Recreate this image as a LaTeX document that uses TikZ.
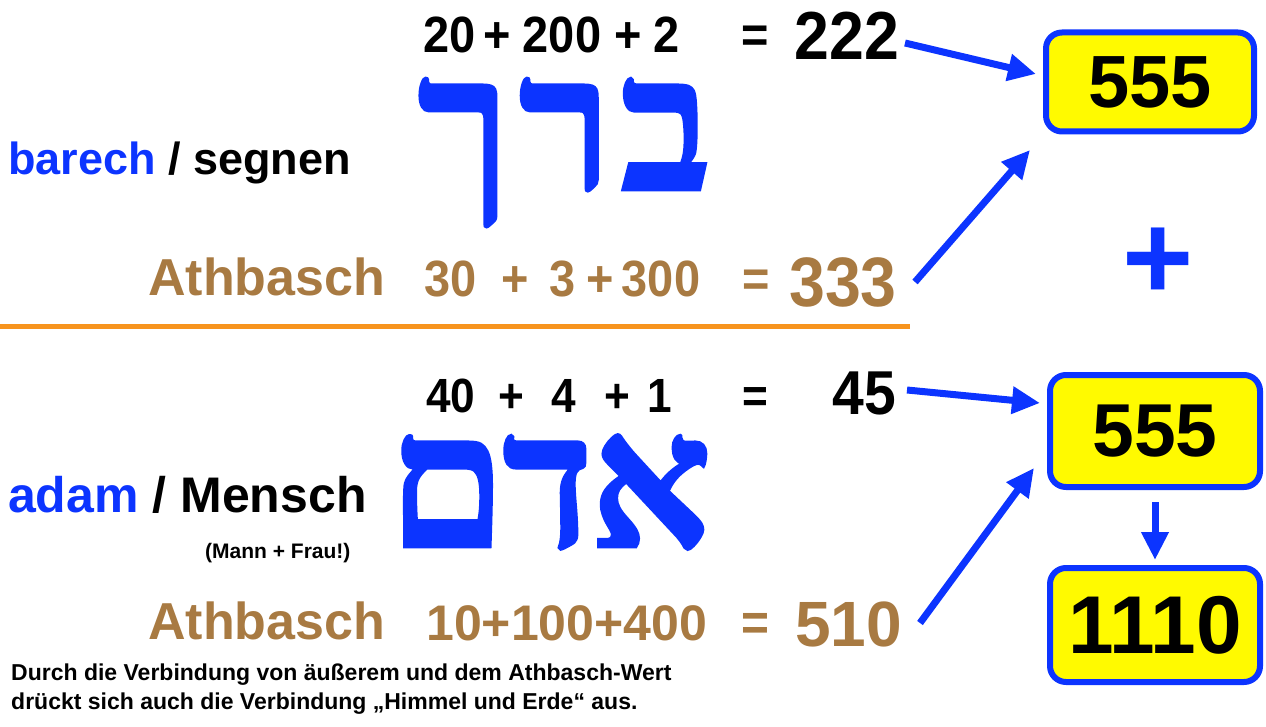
\documentclass[tikz,border=0pt]{standalone}
\usepackage{fontspec}
\setmainfont{Liberation Sans}
\newfontfamily\numf[FakeStretch=0.92]{Liberation Sans}
\newfontfamily\hebfont[Script=Hebrew,FakeBold=1.5]{Liberation Serif}
\TeXXeTstate=1
\usetikzlibrary{arrows.meta}
\definecolor{myblue}{RGB}{12,52,255}
\definecolor{brownish}{RGB}{168,122,66}
\definecolor{orangeline}{RGB}{247,148,30}
\definecolor{boxyellow}{RGB}{255,250,0}
\tikzset{
  fs/.style={font=\bfseries\fontsize{#1}{#1}\selectfont},
  nfs/.style={font=\numf\bfseries\fontsize{#1}{#1}\selectfont},
  txt/.style={inner sep=0pt, anchor=base west},
  num/.style={inner sep=0pt, anchor=base},
  heb/.style={inner sep=0pt, anchor=base east, text=myblue, font=\hebfont\bfseries\fontsize{190}{190}\selectfont},
  resbox/.style={draw=myblue, line width=6pt, fill=boxyellow, rounded corners=16pt, inner sep=0pt, minimum width=208pt},
  arr/.style={draw=myblue, line width=7pt, -{Triangle[length=28pt,width=26pt]}},
}
\begin{document}
\begin{tikzpicture}[x=1pt,y=-1pt]
\useasboundingbox (0,0) rectangle (1266,727);
% row 1
\node[num,nfs=51] (n20) at (450,53) {20};
\node[num,nfs=51] (p1) at (497,53) {+};
\node[num,nfs=51] (n200) at (562,53) {200};
\node[num,nfs=51] (p2) at (628,53) {+};
\node[num,nfs=51] (n2) at (667,53) {2};
\node[num,nfs=51] (eq1) at (755,53) {=};
\node[num,nfs=68] (r222) at (847,60) {222};
% hebrew 1
\node[heb] (heb1) at (712,190) {\beginR ב\hspace{8pt}ר\hspace{8pt}ך\endR};
\node[txt,fs=45] (barech) at (8,175) {\textcolor{myblue}{barech} / segnen};
% row 2
\begin{scope}[text=brownish]
\node[txt,fs=52] (ath1) at (148,296) {Athbasch};
\node[num,nfs=51] (n30) at (451,297) {30};
\node[num,nfs=51] (p3) at (515,297) {+};
\node[num,nfs=51] (n3) at (563,297) {3};
\node[num,nfs=51] (p4) at (600,297) {+};
\node[num,nfs=51] (n300) at (661,297) {300};
\node[num,nfs=51] (eq2) at (756,297) {=};
\node[num,nfs=70] (r333) at (843,306) {333};
\end{scope}
\draw[orangeline, line width=5pt] (0,326) -- (910,326);
% row 3
\node[num,nfs=48] (n40) at (451,412) {40};
\node[num,nfs=48] (p5) at (511,412) {+};
\node[num,nfs=48] (n4) at (564,412) {4};
\node[num,nfs=48] (p6) at (617,412) {+};
\node[num,nfs=48] (n1) at (660,412) {1};
\node[num,nfs=48] (eq3) at (755,412) {=};
\node[num,nfs=62] (r45) at (864,414) {45};
% hebrew 2
\node[heb] (heb2) at (712,547) {\beginR א\hspace{-4pt}ד\hspace{-4pt}ם\endR};
\node[txt,fs=50] (adam) at (8,512) {\textcolor{myblue}{adam} / Mensch};
\node[txt,fs=21] (mf) at (205,558) {(Mann + Frau!)};
% row 4
\begin{scope}[text=brownish]
\node[txt,fs=52] (ath2) at (148,639) {Athbasch};
\node[txt,fs=50] (n10) at (426,640) {10+100+400};
\node[num,nfs=52] (eq4) at (755,640) {=};
\node[txt,fs=64] (r510) at (795,646) {510};
\end{scope}
% note
\node[anchor=base west, align=left, inner sep=0pt, font=\bfseries\fontsize{23}{29}\selectfont] (note) at (11,709)
  {Durch die Verbindung von äußerem und dem Athbasch-Wert\\drückt sich auch die Verbindung „Himmel und Erde“ aus.};
% boxes
\node[resbox, minimum width=208pt, minimum height=99pt, fs=74] (b1) at (1150,82) {555};
\node[fs=122, text=myblue, inner sep=0pt] (plus) at (1158,264) {+};
\node[resbox, minimum width=210pt, minimum height=112pt, fs=75] (b2) at (1155,431) {555};
\node[resbox, minimum width=210pt, minimum height=114pt, fs=82] (b3) at (1155,625) {1110};
% arrows
\coordinate (a1s) at (905,43);
\coordinate (a1e) at (1036,74);
\coordinate (a2s) at (915,282);
\coordinate (a2e) at (1030,150);
\coordinate (a3s) at (907,390);
\coordinate (a3e) at (1040,403);
\coordinate (a4s) at (920,623);
\coordinate (a4e) at (1034,468);
\draw[arr] (a1s) -- (a1e);
\draw[arr] (a2s) -- (a2e);
\draw[arr] (a3s) -- (a3e);
\draw[arr] (a4s) -- (a4e);
\draw[arr, shorten <=12pt, shorten >=5pt] (b2.south) -- (b3.north);
\end{tikzpicture}
\end{document}
